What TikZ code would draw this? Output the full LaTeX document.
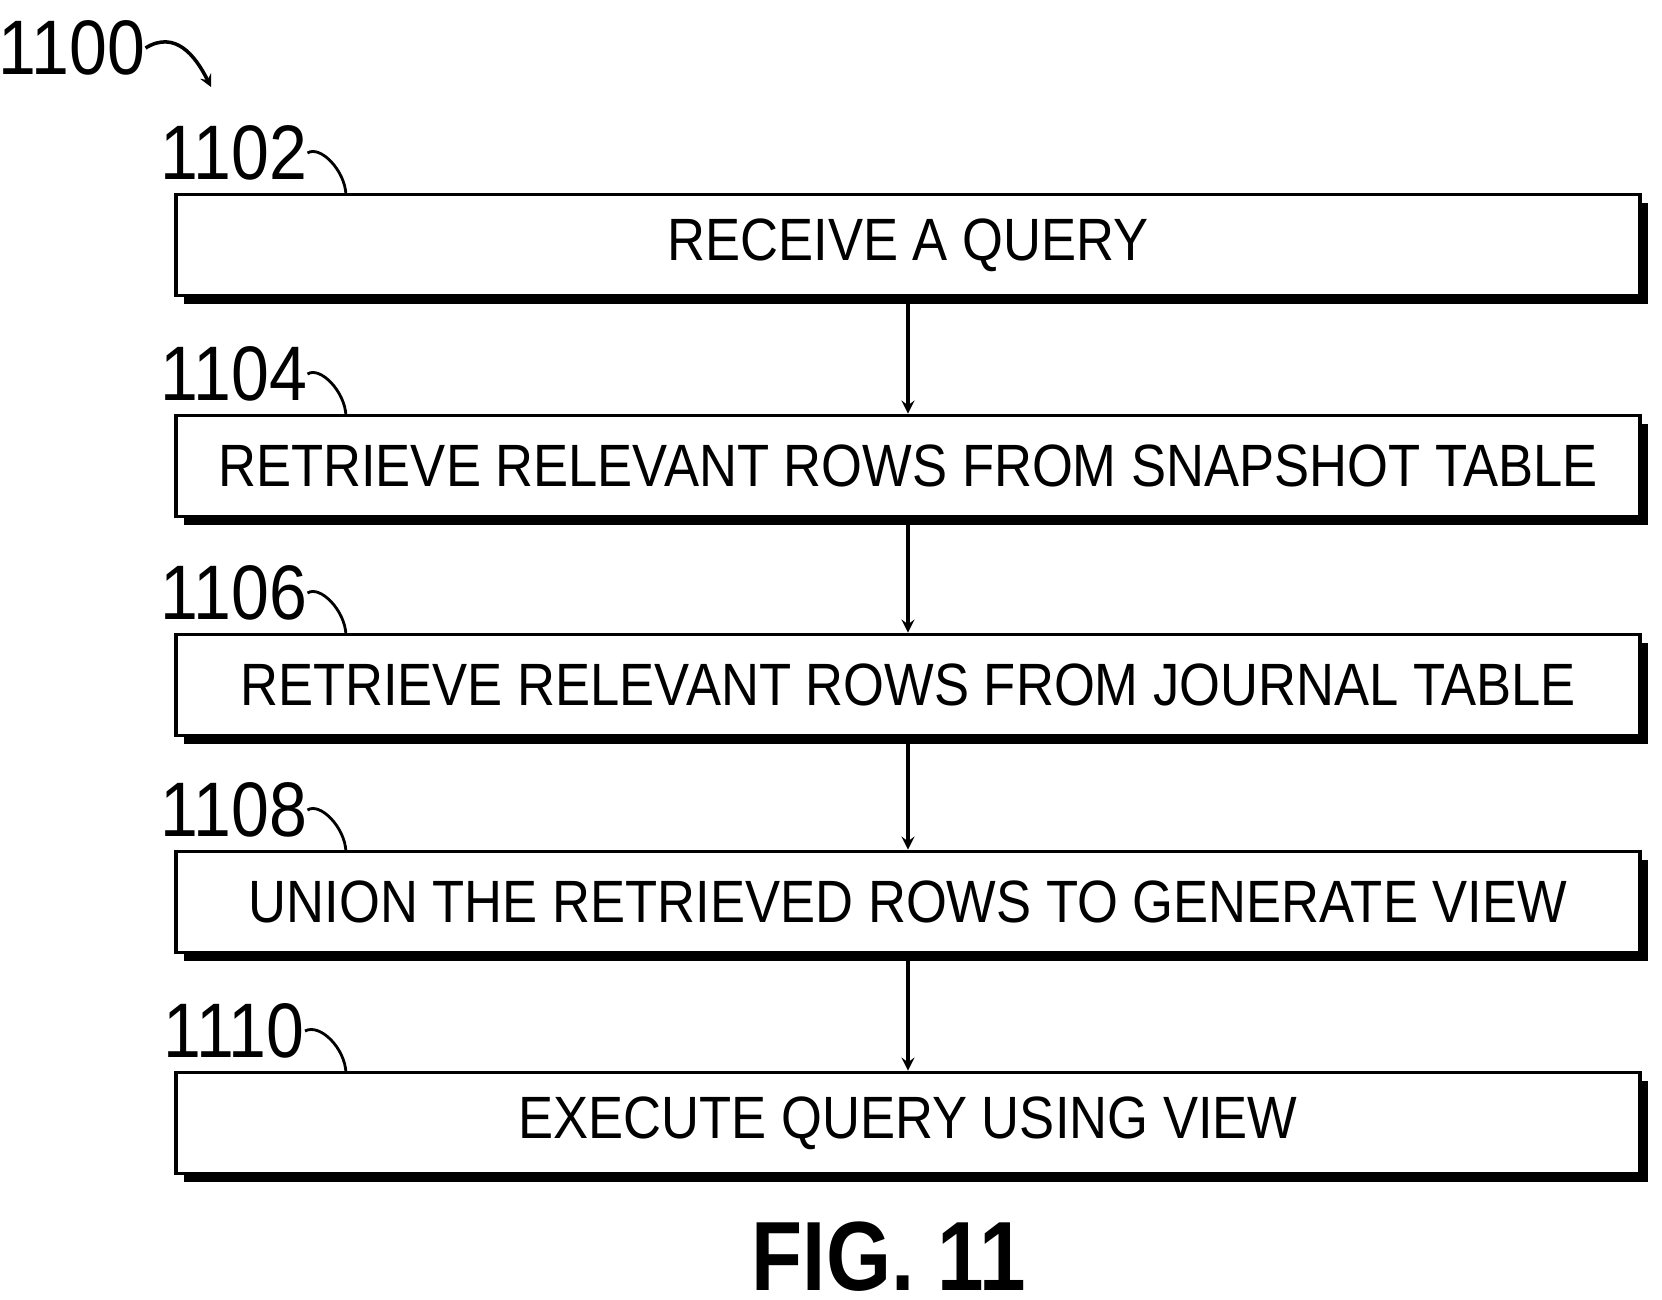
\documentclass[tikz,border=0pt]{standalone}
\usepackage{fontspec}
\setmainfont{Liberation Sans}
\usetikzlibrary{positioning}
\begin{document}
\begin{tikzpicture}[x=0.02cm,y=-0.02cm,
  stepbox/.style={draw,line width=2.2pt,fill=white,minimum width=29.28cm,minimum height=2.02cm,inner sep=0pt,
    font=\fontsize{34}{34}\selectfont},
  shade/.style={fill=black},
  ref/.style={font=\fontsize{44}{44}\selectfont,inner sep=0pt},
  flow/.style={->,line width=2.2pt,>=stealth}]
\useasboundingbox (0,0) rectangle (1662,1300);

% Titel
\node[ref] (fig) at (72,48) {\scalebox{0.88}[1]{1100}};
\draw[line width=2pt,->,>=stealth] (fig.east) .. controls (175,30) and (195,55) .. (211,87);

% Schritte
\foreach \n/\y/\t in {1102/245/RECEIVE A QUERY,
  1104/466/RETRIEVE RELEVANT ROWS FROM SNAPSHOT TABLE,
  1106/685/RETRIEVE RELEVANT ROWS FROM JOURNAL TABLE,
  1108/902/UNION THE RETRIEVED ROWS TO GENERATE VIEW,
  1110/1123/EXECUTE QUERY USING VIEW}{
  \fill[shade] (184,\y-42) rectangle (1648,\y+59);
  \node[stepbox] (s\n) at (908,\y) {\scalebox{0.88}[1]{\t}};
  \node[ref] (l\n) at (234,\y-92) {\scalebox{0.88}[1]{\n}};
  \draw[line width=1.6pt] (l\n.east) .. controls (320,\y-100) and (345,\y-75) .. (346,\y-50);
}

% Pfeile
\draw[flow] (s1102) -- (s1104);
\draw[flow] (s1104) -- (s1106);
\draw[flow] (s1106) -- (s1108);
\draw[flow] (s1108) -- (s1110);

\node[font=\bfseries\fontsize{56}{56}\selectfont] (title) at (889,1257) {\scalebox{0.85}[1]{FIG. 11}};
\end{tikzpicture}
\end{document}
